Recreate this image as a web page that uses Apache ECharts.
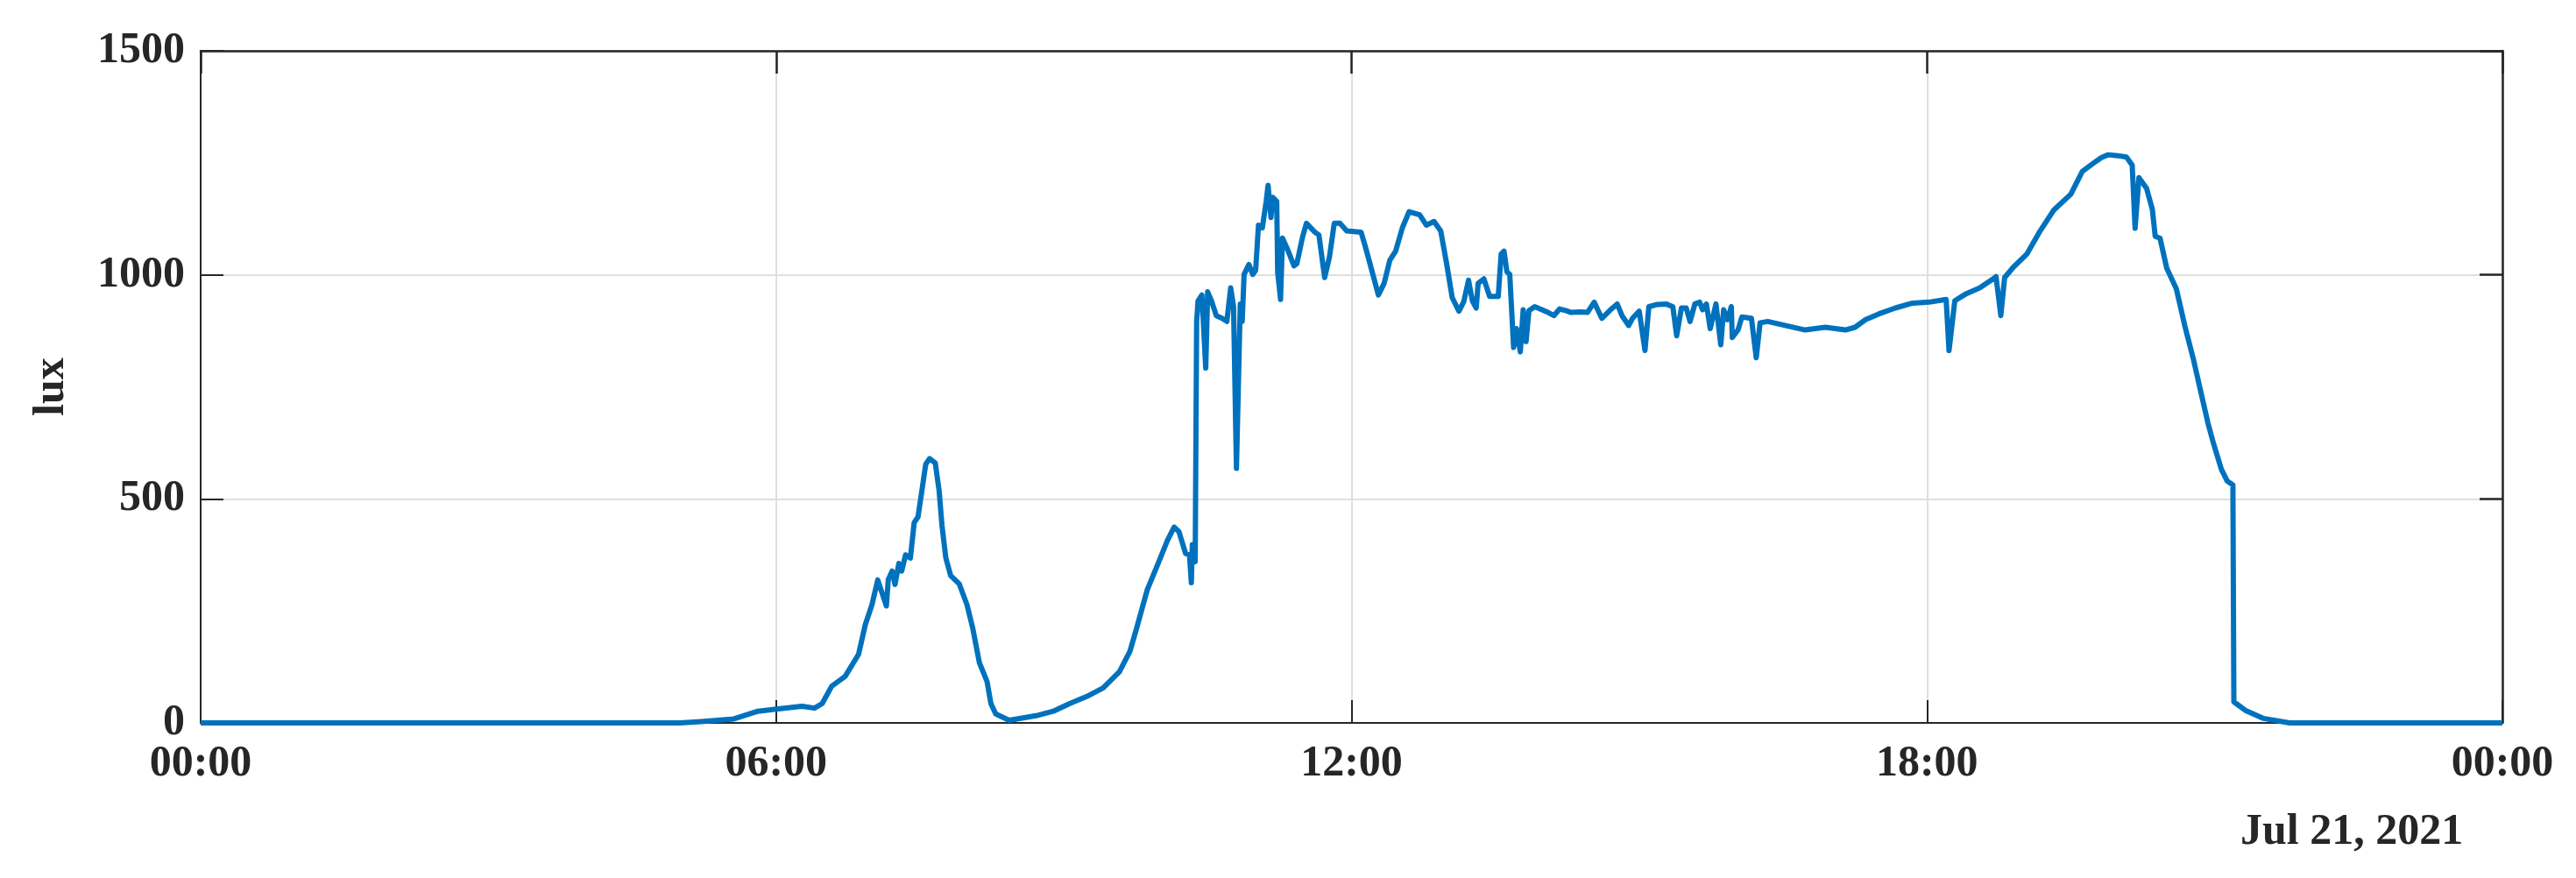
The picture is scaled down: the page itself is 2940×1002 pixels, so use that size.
<!DOCTYPE html>
<html>
<head>
<meta charset="utf-8">
<script src="https://cdn.jsdelivr.net/npm/echarts@6/dist/echarts.min.js"></script>
<style>html,body{margin:0;padding:0;background:#fff}#c{width:2940px;height:1002px}</style>
</head>
<body>
<div id="c"></div>
<script>
// hours of day (Jul 21, 2021)
const hours = [0,5.0,5.22,5.56,5.81,6.0,6.27,6.40,6.48,6.58,6.72,6.86,6.93,7.0,7.06,7.15,7.17,7.21,7.24,7.28,7.31,7.35,7.40,7.44,7.48,7.52,7.56,7.60,7.66,7.70,7.73,7.77,7.82,7.91,7.99,8.05,8.12,8.20,8.24,8.29,8.43,8.71,8.89,9.06,9.24,9.41,9.58,9.69,9.76,9.87,9.97,10.08,10.15,10.20,10.27,10.31,10.33,10.34,10.37,10.385,10.40,10.44,10.48,10.50,10.54,10.59,10.65,10.70,10.74,10.77,10.80,10.84,10.86,10.88,10.93,10.97,11.0,11.03,11.07,11.11,11.13,11.16,11.18,11.22,11.23,11.26,11.28,11.34,11.40,11.43,11.49,11.53,11.62,11.66,11.72,11.77,11.82,11.88,11.95,12.10,12.14,12.19,12.28,12.34,12.40,12.46,12.53,12.60,12.71,12.78,12.86,12.93,12.99,13.05,13.12,13.17,13.22,13.26,13.30,13.32,13.38,13.44,13.53,13.56,13.59,13.62,13.65,13.69,13.72,13.76,13.79,13.82,13.85,13.91,14.05,14.11,14.17,14.24,14.29,14.38,14.46,14.53,14.61,14.70,14.77,14.82,14.89,14.93,15.0,15.06,15.10,15.19,15.28,15.35,15.39,15.44,15.49,15.53,15.58,15.63,15.66,15.70,15.74,15.80,15.85,15.88,15.92,15.96,15.97,16.03,16.07,16.17,16.22,16.26,16.34,16.52,16.73,16.94,17.15,17.25,17.36,17.50,17.67,17.85,18.02,18.20,18.23,18.29,18.41,18.55,18.69,18.72,18.77,18.81,18.90,19.04,19.18,19.32,19.50,19.62,19.74,19.82,19.89,19.99,20.08,20.14,20.17,20.21,20.29,20.35,20.38,20.43,20.50,20.60,20.69,20.78,20.87,20.93,20.99,21.07,21.13,21.19,21.20,21.32,21.51,21.78,24];
// illuminance in lux
const lux = [0,0,3,9,26,31,37,33,43,82,104,153,219,264,319,261,320,339,309,356,339,375,368,447,460,518,577,590,580,518,440,368,329,310,264,212,134,92,43,20,6,16,26,43,59,78,114,160,212,297,349,407,437,427,378,375,313,398,360,896,942,955,792,962,942,909,903,896,971,929,568,935,896,1001,1023,1001,1010,1111,1105,1164,1200,1128,1173,1164,1006,945,1082,1053,1020,1025,1085,1115,1095,1089,994,1040,1115,1115,1098,1095,1066,1027,955,981,1033,1053,1105,1141,1134,1111,1119,1098,1027,949,919,940,988,942,926,981,991,952,952,1046,1053,1007,1001,838,880,828,922,851,920,929,916,909,924,920,916,917,916,939,903,922,935,909,887,903,919,831,929,934,935,929,864,926,926,896,935,939,922,935,880,935,844,922,900,929,860,877,906,903,815,893,896,887,877,883,877,883,900,913,926,937,939,945,831,942,958,971,991,996,909,994,1017,1046,1098,1144,1180,1231,1250,1262,1268,1266,1263,1245,1104,1217,1193,1146,1086,1082,1015,969,885,810,725,669,622,566,540,531,47,28,10,0,0];
const xTickLabels = ["00:00","06:00","12:00","18:00","00:00"];
const yTickValues = [0,500,1000,1500];
const dateLabel = "Jul 21, 2021";
const yName = "lux";

const FONT = '"Liberation Serif", "DejaVu Serif", serif';
const TXT = '#262626';
const AX = '#262626';
const GRID = '#dfdfdf';

const data = hours.map((h, i) => [h, lux[i]]);

const chart = echarts.init(document.getElementById('c'), null, {renderer: 'canvas'});
const labelStyle = {fontFamily: FONT, fontSize: 50, fontWeight: 'bold', color: TXT};

chart.setOption({
  animation: false,
  backgroundColor: '#fff',
  grid: {left: 229, right: 84, top: 58, bottom: 177, containLabel: false},
  xAxis: [{
    type: 'value', min: 0, max: 24, interval: 6, position: 'bottom',
    axisLine: {show: true, onZero: false, lineStyle: {color: AX, width: 2}},
    axisTick: {show: true, inside: true, length: 26, lineStyle: {color: AX, width: 2}},
    splitLine: {show: true, lineStyle: {color: GRID, width: 2}},
    axisLabel: Object.assign({margin: 22, formatter: v => xTickLabels[Math.round(v / 6)]}, labelStyle)
  }, {
    type: 'value', min: 0, max: 24, interval: 6, position: 'top',
    axisLine: {show: true, onZero: false, lineStyle: {color: AX, width: 2.5}},
    axisTick: {show: true, inside: true, length: 26, lineStyle: {color: AX, width: 2.5}},
    splitLine: {show: false}, axisLabel: {show: false}
  }],
  yAxis: [{
    type: 'value', min: 0, max: 1500, interval: 500, position: 'left',
    name: yName, nameLocation: 'middle', nameGap: 145,
    nameTextStyle: {fontFamily: FONT, fontSize: 50, fontWeight: 'bold', color: TXT},
    axisLine: {show: true, onZero: false, lineStyle: {color: AX, width: 2}},
    axisTick: {show: true, inside: true, length: 26, lineStyle: {color: AX, width: 2}},
    splitLine: {show: true, lineStyle: {color: GRID, width: 2}},
    axisLabel: Object.assign({margin: 18, formatter: v => yTickValues.includes(v) ? String(v) : ''}, labelStyle)
  }, {
    type: 'value', min: 0, max: 1500, interval: 500, position: 'right',
    axisLine: {show: true, onZero: false, lineStyle: {color: AX, width: 2.5}},
    axisTick: {show: true, inside: true, length: 26, lineStyle: {color: AX, width: 2.5}},
    splitLine: {show: false}, axisLabel: {show: false}
  }],
  series: [{
    type: 'line', xAxisIndex: 0, yAxisIndex: 0, data: data,
    showSymbol: false, symbol: 'none', clip: false,
    lineStyle: {color: '#0072BD', width: 6, join: 'round'},
    z: 5
  }],
  graphic: [{
    type: 'text', left: 2687 - 130, top: 925,
    style: {text: dateLabel, fontFamily: FONT, fontSize: 50, fontWeight: 'bold', fill: TXT}
  }]
});
</script>
</body>
</html>
